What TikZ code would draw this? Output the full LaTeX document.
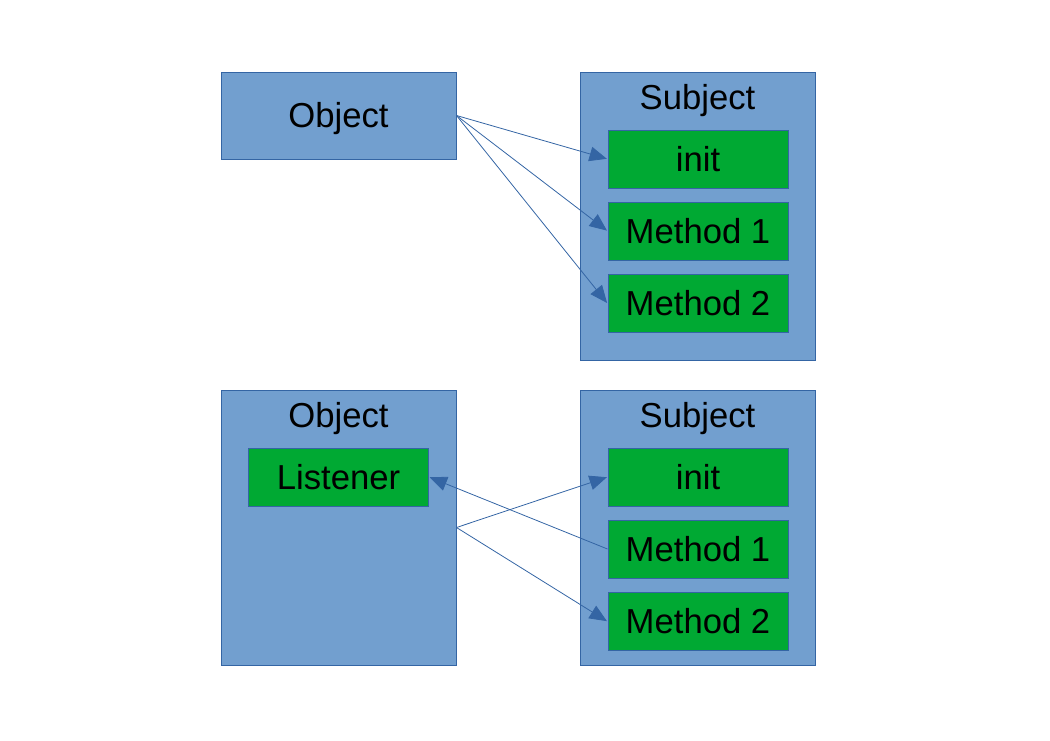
\documentclass[tikz,border=0pt]{standalone}
\usepackage{fontspec}
\setmainfont{Liberation Sans}
\usepackage{tikz}
\usetikzlibrary{arrows.meta}

\definecolor{boxblue}{HTML}{729FCF}
\definecolor{edgeblue}{HTML}{3465A4}
\definecolor{methgreen}{HTML}{00A933}

\begin{document}
\begin{tikzpicture}[x=0.75pt, y=-0.75pt,
	every node/.style={font=\fontsize{26}{30}\selectfont, inner sep=0pt, text height=18.6pt, text depth=0pt},
	outer/.style={draw=edgeblue, fill=boxblue, line width=0.75pt, minimum width=176.25pt},
	method/.style={draw=edgeblue, fill=methgreen, line width=0.75pt, minimum width=135pt, minimum height=43.5pt},
	call/.style={draw=edgeblue, line width=0.6pt, -{Triangle[length=13pt, width=11pt]}, shorten >=0.5pt}]
	\useasboundingbox (0,0) rectangle (1050,740);
	% top: object calls the methods directly
	\node[outer, minimum height=65.25pt] (obj1) at (338.5,115.5) {Object};
	\node[outer, minimum height=216pt] (subj1) at (697.5,216) {};
	\node (subj1t) at (697.5,97.5) {Subject};
	\node[method] (init1) at (698,159) {init};
	\node[method] (m11) at (698,231) {Method 1};
	\node[method] (m21) at (698,303.5) {Method 2};
	\draw[call] (obj1.east) -- (init1.west);
	\draw[call] (obj1.east) -- (m11.west);
	\draw[call] (obj1.east) -- (m21.west);
	% bottom: object with a listener
	\node[outer, minimum height=206.25pt] (obj2) at (338.5,527.5) {};
	\node (obj2t) at (338.5,415.5) {Object};
	\node[method] (lis) at (338.5,477) {Listener};
	\node[outer, minimum height=206.25pt] (subj2) at (697.5,527.5) {};
	\node (subj2t) at (697.5,415.5) {Subject};
	\node[method] (init2) at (698,477) {init};
	\node[method] (m12) at (698,549) {Method 1};
	\node[method] (m22) at (698,621.5) {Method 2};
	\draw[call] (obj2.east) -- (init2.west);
	\draw[call] (obj2.east) -- (m22.west);
	\draw[call] (m12.west) -- (lis.east);
\end{tikzpicture}
\end{document}
